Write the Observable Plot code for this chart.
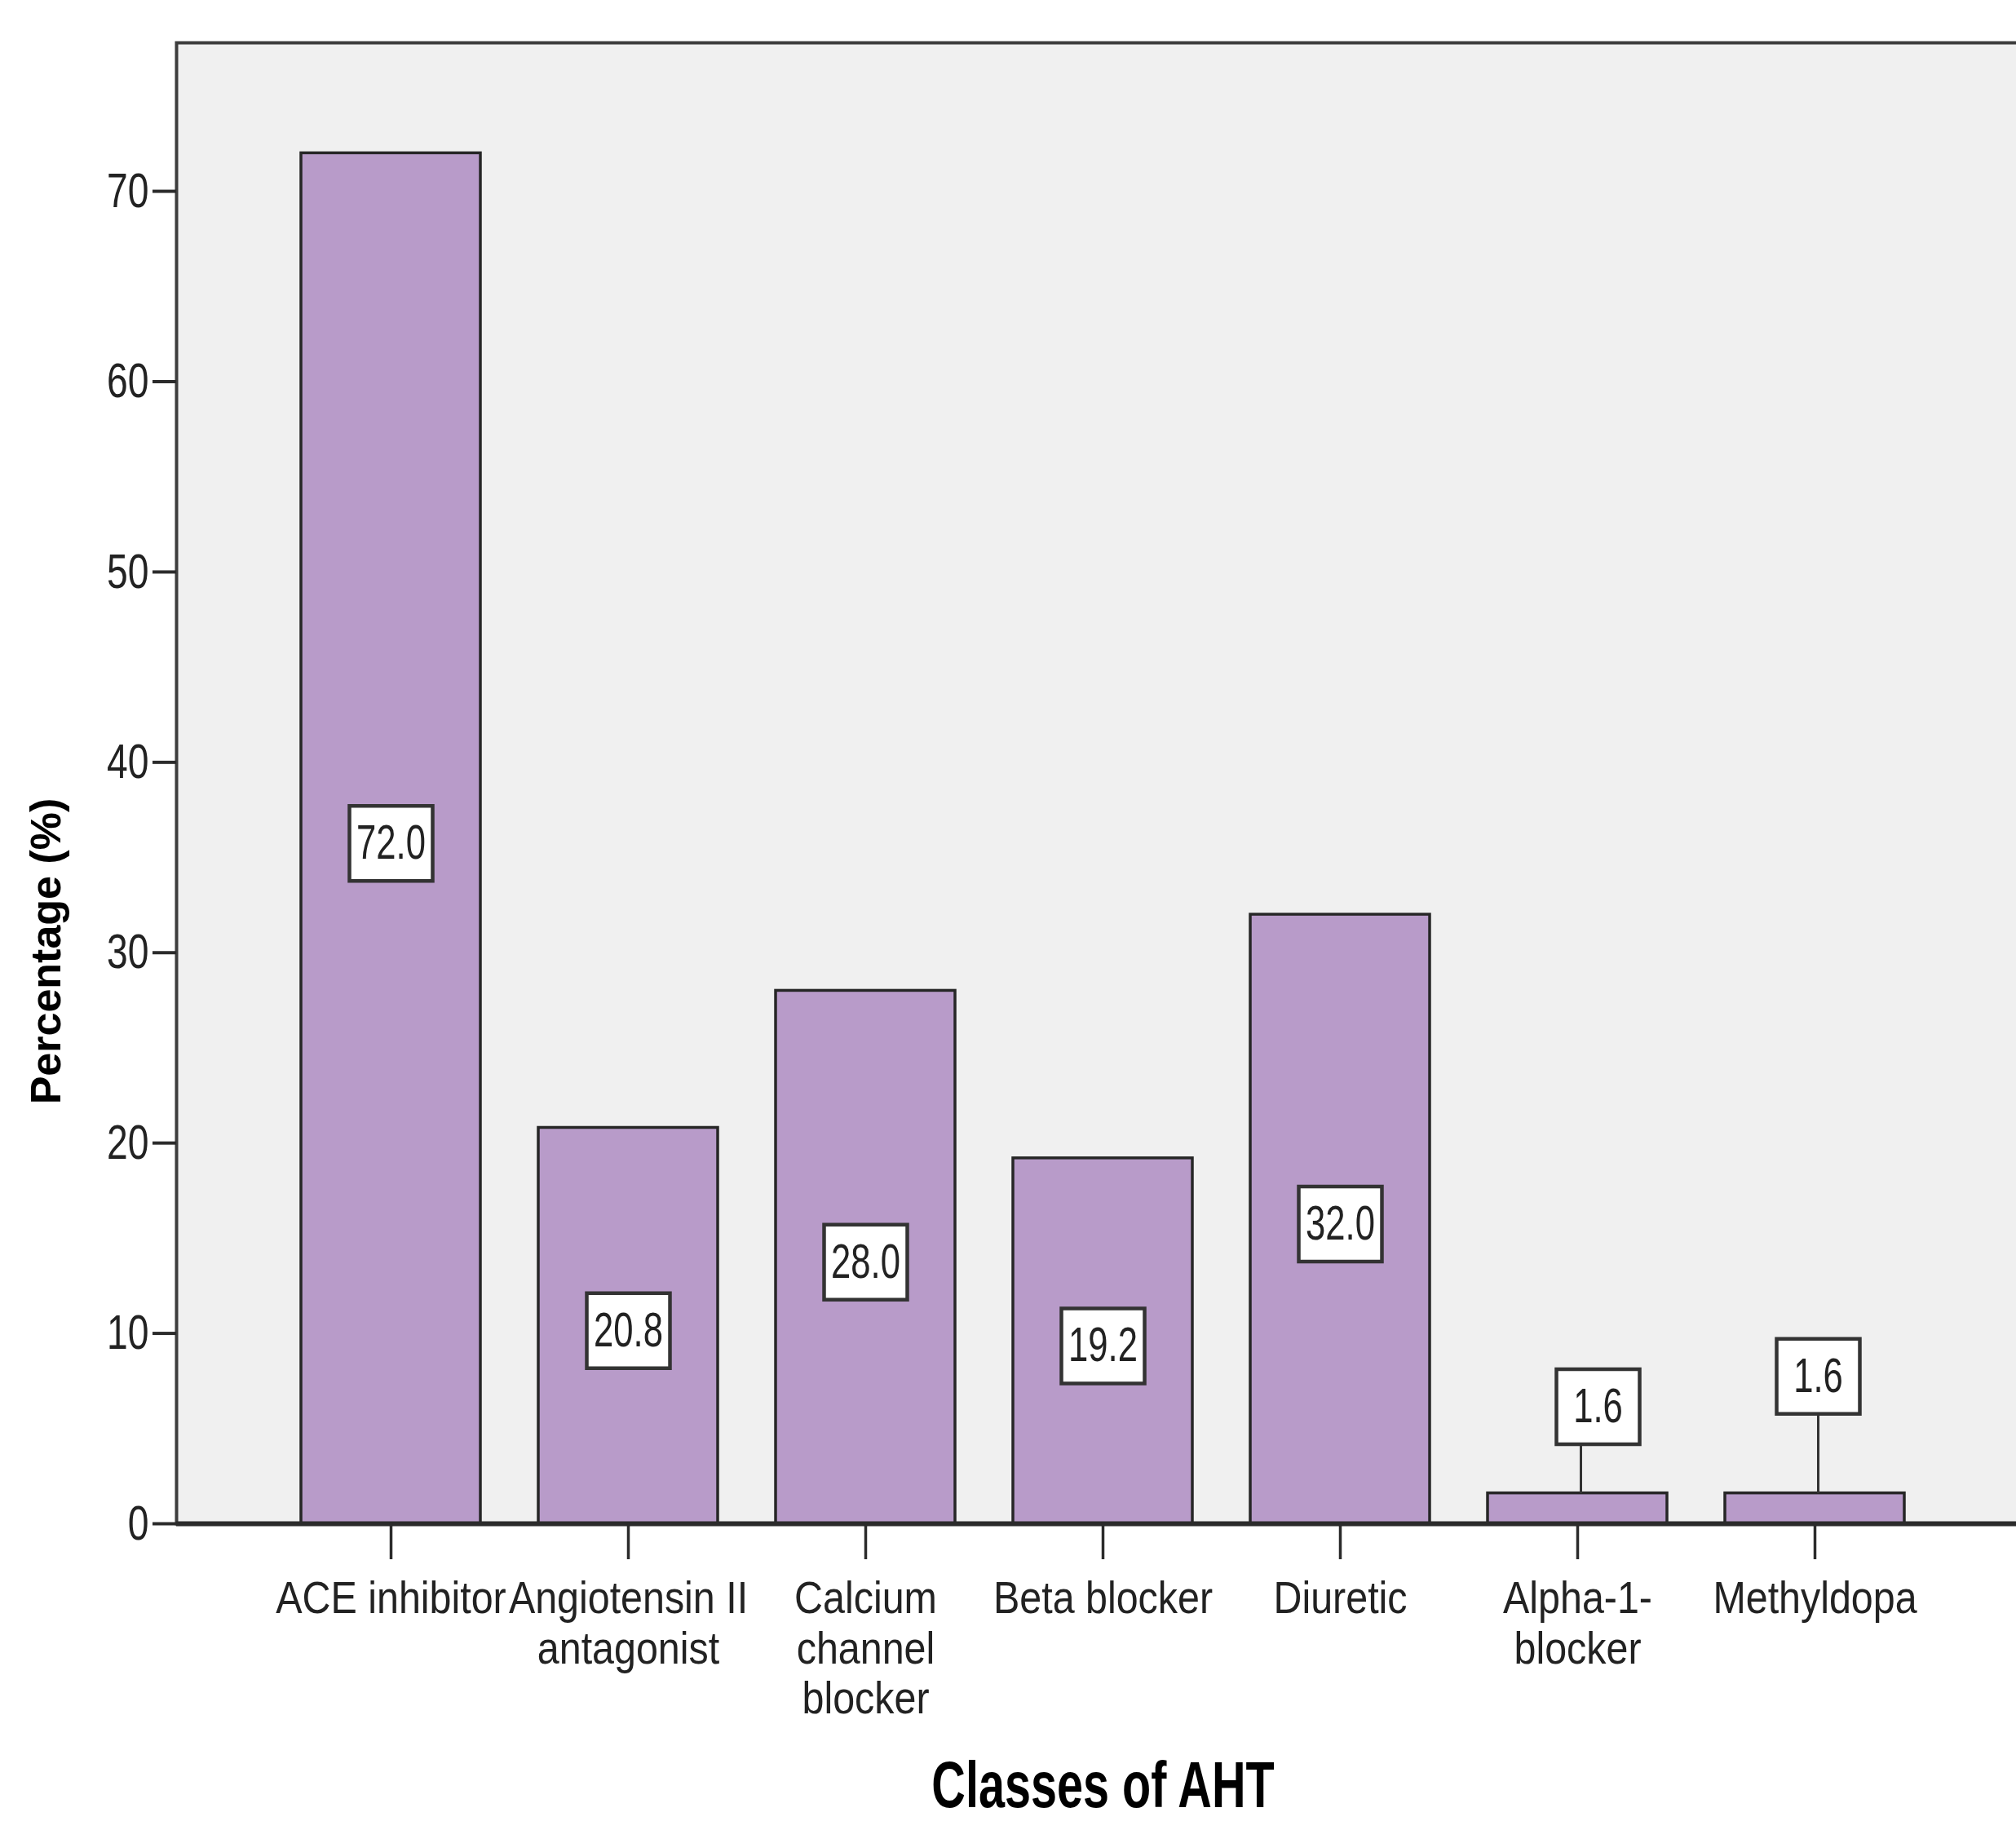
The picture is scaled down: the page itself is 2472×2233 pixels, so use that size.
<!DOCTYPE html>
<html>
<head>
<meta charset="utf-8">
<script src="https://cdn.jsdelivr.net/npm/d3@7"></script>
<script src="https://cdn.jsdelivr.net/npm/@observablehq/plot@0.6"></script>
<style>
  html, body { margin: 0; padding: 0; background: #fff; overflow: hidden; }
  #chart svg { display: block; max-width: none; }
</style>
</head>
<body>
<div id="chart"></div>
<script>
// ---- data ----
const categories = ["ACE inhibitor", "Angiotensin II antagonist", "Calcium channel blocker", "Beta blocker", "Diuretic", "Alpha-1-blocker", "Methyldopa"];
const percentages = [72.0, 20.8, 28.0, 19.2, 32.0, 1.6, 1.6];
const tickLabels = ["ACE inhibitor", "Angiotensin II\nantagonist", "Calcium\nchannel\nblocker", "Beta blocker", "Diuretic", "Alpha-1-\nblocker", "Methyldopa"];
const yTicks = [0, 10, 20, 30, 40, 50, 60, 70];
const xTitle = "Classes of AHT";
const yTitle = "Percentage (%)";

// ---- label placement (SPSS-style callouts for bars too short to hold a label) ----
const calloutY = { "Alpha-1-blocker": 6.4, "Methyldopa": 8.0 };
const calloutDx = { "Alpha-1-blocker": 25, "Methyldopa": 4 };

const data = categories.map((c, i) => ({ category: c, value: percentages[i] }));
const labels = data.map(d => ({
  ...d,
  ly: calloutY[d.category] ?? d.value / 2,
  dx: calloutDx[d.category] ?? 0,
  callout: d.category in calloutY
}));

const font = "'Liberation Sans', Arial, Helvetica, sans-serif";
const ink = "#222";

// box symbol for the value labels
const boxSymbol = {
  draw(context) {
    const w = 51, h = 46;
    context.moveTo(-w, -h);
    context.lineTo(w, -h);
    context.lineTo(w, h);
    context.lineTo(-w, h);
    context.closePath();
  }
};

// condensed lettering, as in the reference (horizontal squeeze about each text's anchor)
function squeezeText(t, sx) {
  const tr = t.getAttribute("transform");
  if (tr) {
    t.setAttribute("transform", `${tr} scale(${sx},1)`);
  } else {
    const x = +t.getAttribute("x") || 0, y = +t.getAttribute("y") || 0;
    t.removeAttribute("x"); t.removeAttribute("y");
    t.setAttribute("transform", `translate(${x},${y}) scale(${sx},1)`);
  }
}
function squeezeRender(sx) {
  return function(index, scales, values, dimensions, context, next) {
    const g = next(index, scales, values, dimensions, context);
    g.querySelectorAll("text").forEach(t => squeezeText(t, sx));
    return g;
  };
}

// shift each rendered element of a label mark by its label's dx (optionally squeezing text)
function shiftRender(tag, sx) {
  return function(index, scales, values, dimensions, context, next) {
    const g = next(index, scales, values, dimensions, context);
    d3.select(g).selectAll(tag).each(function(_, j) {
      const i = index[j];
      const t = this.getAttribute("transform") || "";
      const m = /translate\(([^,]+),([^)]+)\)/.exec(t);
      if (m) {
        this.setAttribute("transform",
          `translate(${+m[1] + labels[i].dx},${+m[2] + 6})` + (sx ? ` scale(${sx},1)` : ""));
      }
    });
    return g;
  };
}

const chart = Plot.plot({
  width: 2472,
  height: 2233,
  marginLeft: 216,
  marginRight: -16,
  marginTop: 52,
  marginBottom: 365,
  style: { fontFamily: font, background: "#fff", color: ink, overflow: "hidden" },
  x: { domain: categories, paddingInner: 0.244, paddingOuter: 0.513, label: null },
  y: { domain: [0, 77.8], label: null },
  marks: [
    Plot.frame({ fill: "#f0f0f0", stroke: "#3d3d3d", strokeWidth: 4 }),
    Plot.barY(data, { x: "category", y: "value", fill: "#b89bc9", stroke: "#262626", strokeWidth: 3.5 }),
    Plot.ruleY([0], { stroke: "#2b2b2b", strokeWidth: 6 }),
    Plot.link(labels.filter(d => d.callout), {
      x1: "category", x2: "category", y1: "value", y2: "ly",
      stroke: "#333", strokeWidth: 3, dx: 4
    }),
    Plot.dot(labels, {
      x: "category", y: "ly", symbol: boxSymbol, r: 10,
      fill: "#fff", stroke: "#333", strokeWidth: 4.5,
      render: shiftRender("path")
    }),
    Plot.text(labels, {
      x: "category", y: "ly", text: d => d.value.toFixed(1),
      fontSize: 59, fill: ink, lineAnchor: "middle",
      render: shiftRender("text", 0.74)
    }),
    Plot.axisY({
      ticks: yTicks, tickSize: 29, tickPadding: 5, fontSize: 60,
      stroke: "#2b2b2b", strokeWidth: 4, fill: ink, label: null
    }),
    Plot.axisX({
      tickSize: 44, tickPadding: 22, fontSize: 55, lineHeight: 1.12,
      tickFormat: d => tickLabels[categories.indexOf(d)],
      stroke: "#2b2b2b", strokeWidth: 3.5, fill: ink, label: null
    }),
    Plot.text([yTitle], {
      frameAnchor: "left", rotate: -90, dx: 73 - 216, dy: 206,
      lineAnchor: "bottom", textAnchor: "middle",
      fontWeight: "bold", fontSize: 52, fill: "#000"
    }),
    Plot.text([xTitle], {
      frameAnchor: "bottom", dy: 347, lineAnchor: "bottom",
      fontWeight: "bold", fontSize: 80, fill: "#000",
      render: squeezeRender(0.72)
    })
  ]
});

chart.querySelectorAll('g[aria-label="x-axis tick label"] text').forEach(t => squeezeText(t, 0.88));
chart.querySelectorAll('g[aria-label="y-axis tick label"] text').forEach(t => squeezeText(t, 0.77));

document.getElementById("chart").appendChild(chart);
</script>
</body>
</html>
